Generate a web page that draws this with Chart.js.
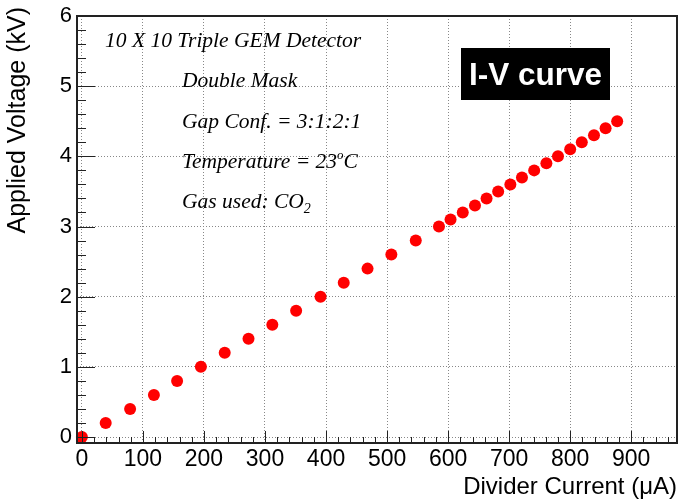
<!DOCTYPE html>
<html>
<head>
<meta charset="utf-8">
<script src="https://cdn.jsdelivr.net/npm/chart.js@4"></script>
<style>
  html, body { margin: 0; padding: 0; background: #fff; overflow: hidden; }
  canvas { display: block; }
</style>
</head>
<body>
<canvas id="ivChart" width="678" height="499"></canvas>
<script>
// divider current (uA) vs applied voltage (kV)
const currents = [0, 39, 79, 118, 156, 195, 234, 273, 312, 351, 391, 429, 468, 507, 547, 585,
  604, 624, 644, 663, 682, 702, 721, 741, 761, 780, 800, 819, 839, 858, 877]
const voltages = [0, 0.2, 0.4, 0.6, 0.8, 1.0, 1.2, 1.4, 1.6, 1.8, 2.0, 2.2, 2.4, 2.6, 2.8, 3.0,
  3.1, 3.2, 3.3, 3.4, 3.5, 3.6, 3.7, 3.8, 3.9, 4.0, 4.1, 4.2, 4.3, 4.4, 4.5]

const xTicks = [0, 100, 200, 300, 400, 500, 600, 700, 800, 900]
const yTicks = [0, 1, 2, 3, 4, 5, 6]
const xMinorStep = 20
const yMinorStep = 0.2

const xTitle = 'Divider Current (\u03bcA)'
const yTitle = 'Applied Voltage (kV)'
const plotLabel = 'I-V curve'

// each line is a list of [text, kind] pieces; kind is 'sup' or 'sub' when set
const infoLines = [
  [['10 X 10 Triple GEM Detector']],
  [['Double Mask']],
  [['Gap Conf. = 3:1:2:1']],
  [['Temperature = 23'], ['o', 'sup'], ['C']],
  [['Gas used: CO'], ['2', 'sub']]
]

const sans = "'Liberation Sans', Arial, Helvetica, sans-serif"
const serif = "'Liberation Serif', 'Times New Roman', serif"

// frame, inward ticks, axis titles and the text boxes (ROOT look)
const rootFrame = {
  id: 'rootFrame',
  afterDatasetsDraw(chart) {
    const {ctx, chartArea: a, scales: {x, y}} = chart
    ctx.save()

    // tick marks
    ctx.strokeStyle = '#222'
    ctx.lineWidth = 1
    ctx.beginPath()
    for (let v = 0; v <= x.max; v += xMinorStep) {
      const px = Math.round(x.getPixelForValue(v)) + 0.5
      const len = v % 100 === 0 ? 12 : 6
      ctx.moveTo(px, a.bottom)
      ctx.lineTo(px, a.bottom - len)
    }
    for (let i = 0; i * yMinorStep <= y.max + 1e-6; i++) {
      const v = i * yMinorStep
      const py = Math.round(y.getPixelForValue(v)) + 0.5
      const len = i % 5 === 0 ? 18 : 9
      ctx.moveTo(a.left, py)
      ctx.lineTo(a.left + len, py)
    }
    ctx.stroke()

    // frame
    ctx.lineWidth = 2
    ctx.strokeStyle = '#222'
    ctx.strokeRect(a.left, a.top, a.right - a.left, a.bottom - a.top)

    // axis titles
    ctx.fillStyle = '#000'
    ctx.font = '24px ' + sans
    ctx.textAlign = 'right'
    ctx.textBaseline = 'alphabetic'
    ctx.fillText(xTitle, a.right, 494)

    ctx.save()
    ctx.translate(25, a.top - 9)
    ctx.rotate(-Math.PI / 2)
    ctx.font = '25px ' + sans
    ctx.textAlign = 'right'
    ctx.fillText(yTitle, 0, 0)
    ctx.restore()

    // info text
    const lineX = [105, 182, 182, 182, 182]
    const lineY = [47, 87, 128, 168, 208]
    ctx.textAlign = 'left'
    infoLines.forEach((pieces, i) => {
      let cx = lineX[i]
      pieces.forEach(([txt, kind]) => {
        let dy = 0
        ctx.font = 'italic 21.5px ' + serif
        if (kind === 'sup') { ctx.font = 'italic 13px ' + serif; dy = -9 }
        if (kind === 'sub') { ctx.font = 'italic 14px ' + serif; dy = 5 }
        ctx.fillText(txt, cx, lineY[i] + dy)
        cx += ctx.measureText(txt).width
      })
    })

    // black label box
    ctx.fillStyle = '#000'
    ctx.fillRect(461, 48, 149, 52)
    ctx.fillStyle = '#fff'
    ctx.font = 'bold 31.5px ' + sans
    ctx.textAlign = 'center'
    ctx.fillText(plotLabel, 535.5, 85)

    ctx.restore()
  }
}

const points = currents.map((c, i) => ({x: c, y: voltages[i]}))

new Chart(document.getElementById('ivChart'), {
  type: 'scatter',
  data: {
    datasets: [{
      label: yTitle,
      data: points,
      backgroundColor: '#ff0000',
      borderWidth: 0,
      pointRadius: 6,
      clip: false
    }]
  },
  options: {
    responsive: false,
    animation: false,
    layout: { autoPadding: false, padding: { top: 16, right: 1, left: 0, bottom: 0 } },
    plugins: {
      legend: { display: false },
      tooltip: { enabled: false }
    },
    scales: {
      x: {
        type: 'linear',
        min: -8,
        max: 975,
        afterFit(scale) {
          scale.height = 56
          scale.paddingLeft = 0
          scale.paddingRight = 0
        },
        afterBuildTicks(scale) { scale.ticks = xTicks.map(v => ({value: v})) },
        grid: { color: '#888', lineWidth: 1, drawTicks: false },
        border: { display: false, dash: [1, 2] },
        ticks: { color: '#000', padding: 3, font: { size: 23, family: sans } }
      },
      y: {
        type: 'linear',
        min: -0.085,
        max: 6,
        afterFit(scale) {
          scale.width = 77
          scale.paddingTop = 0
          scale.paddingBottom = 0
        },
        afterBuildTicks(scale) { scale.ticks = yTicks.map(v => ({value: v})) },
        grid: { color: '#888', lineWidth: 1, drawTicks: false },
        border: { display: false, dash: [1, 2] },
        ticks: { color: '#000', padding: 5, font: { size: 22, family: sans } }
      }
    }
  },
  plugins: [rootFrame]
})
</script>
</body>
</html>
